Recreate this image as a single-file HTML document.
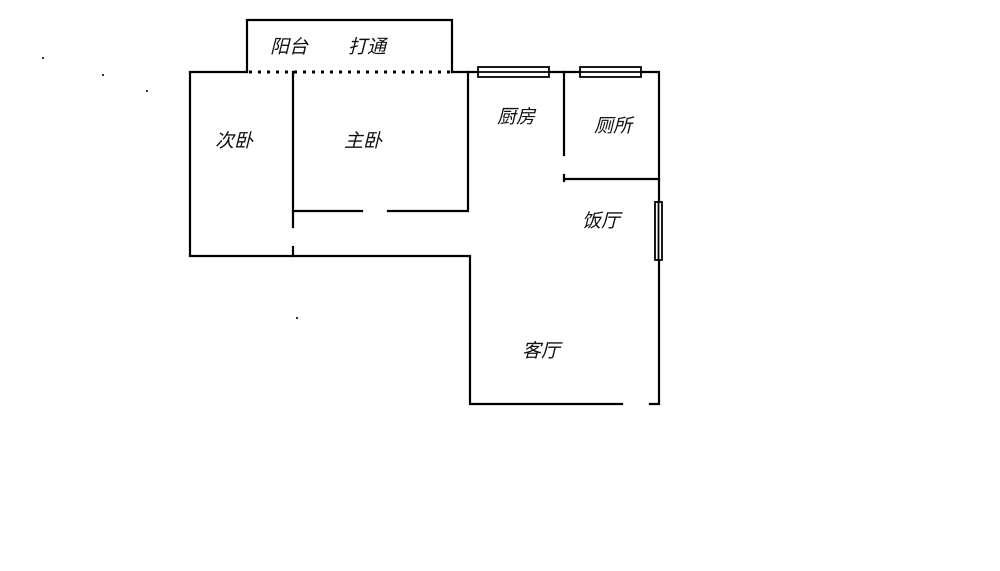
<!DOCTYPE html>
<html><head><meta charset="utf-8"><style>
html,body{margin:0;padding:0;background:#fff;}
svg{display:block}
text{font-family:"Liberation Sans","Noto Sans CJK SC",sans-serif;font-size:19px;font-style:italic;fill:#111;}
</style></head><body>
<svg width="1000" height="571" viewBox="0 0 1000 571" xmlns="http://www.w3.org/2000/svg">
<rect width="1000" height="571" fill="#fff"/>
<g stroke="#000" stroke-width="2.2" fill="none" stroke-linecap="square">
<!-- balcony -->
<polyline points="247,72 247,20 452,20 452,72"/>
<line x1="249" y1="72" x2="451" y2="72" stroke-dasharray="3,6" stroke-width="3" stroke-linecap="butt"/>
<!-- outer left -->
<polyline points="247,72 190,72 190,256 470,256 470,404 622,404"/>
<polyline points="650,404 659,404 659,72 452,72"/>
<!-- partition -->
<line x1="293" y1="72" x2="293" y2="227"/>
<line x1="293" y1="247" x2="293" y2="256"/>
<line x1="293" y1="211" x2="362" y2="211"/>
<polyline points="388,211 468,211 468,72"/>
<!-- kitchen/toilet -->
<line x1="564" y1="72" x2="564" y2="155"/>
<line x1="564" y1="179" x2="659" y2="179"/>
<line x1="564" y1="175" x2="564" y2="181"/>
</g>
<!-- windows -->
<g stroke="#000" fill="#fff" stroke-width="1.8">
<rect x="478" y="67" width="71" height="10"/>
<line x1="478" y1="72" x2="549" y2="72"/>
<rect x="580" y="67" width="61" height="10"/>
<line x1="580" y1="72" x2="641" y2="72"/>
<rect x="655" y="202" width="7" height="58"/>
<line x1="658.5" y1="202" x2="658.5" y2="260"/>
</g>
<g fill="#333">
<rect x="42" y="57" width="2" height="2"/>
<rect x="102" y="74" width="2" height="2"/>
<rect x="146" y="90" width="2" height="2"/>
<rect x="296" y="317" width="2" height="2"/>
</g>
<text x="270" y="53">阳台</text>
<text x="348" y="53">打通</text>
<text x="215" y="147">次卧</text>
<text x="344" y="147">主卧</text>
<text x="497" y="123">厨房</text>
<text x="594" y="132">厕所</text>
<text x="582" y="227">饭厅</text>
<text x="522" y="357">客厅</text>
</svg>
</body></html>
